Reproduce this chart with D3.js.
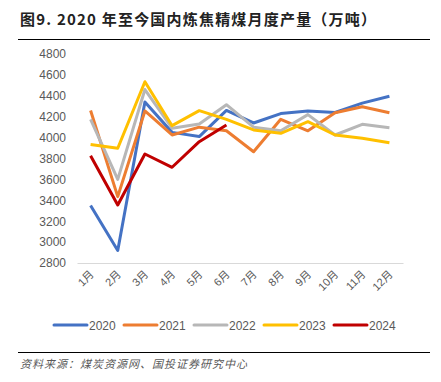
<!DOCTYPE html>
<html><head><meta charset="utf-8">
<script src="https://cdn.jsdelivr.net/npm/d3@7/dist/d3.min.js"></script>
<style>body{margin:0;background:#fff;}svg{display:block;}</style>
</head><body>
<svg id="c" width="441" height="382"></svg>
<script>
const months = ["1月","2月","3月","4月","5月","6月","7月","8月","9月","10月","11月","12月"];
const yTicks = [2800,3000,3200,3400,3600,3800,4000,4200,4400,4600,4800];
const s2020 = [3350,2920,4340,4050,4010,4260,4140,4230,4255,4240,4330,4395];
const s2021 = [4260,3435,4255,4025,4100,4065,3865,4175,4065,4238,4295,4238];
const s2022 = [4175,3600,4460,4090,4130,4315,4100,4065,4220,4025,4127,4095];
const s2023 = [3935,3898,4535,4114,4258,4175,4073,4041,4152,4025,3993,3951];
const s2024 = [3827,3355,3843,3716,3961,4121];
const seriesNames = ["2020","2021","2022","2023","2024"];
const seriesData = [s2020,s2021,s2022,s2023,s2024];
const colors = ["#4472C4","#ED7D31","#B7B7B7","#FFC000","#C00000"];

const svg = d3.select("#c");
const font = "Arial, 'Liberation Sans', 'Noto Sans CJK SC', sans-serif";

// title
svg.append("text").attr("x",20).attr("y",25)
  .attr("font-family","'Noto Sans CJK SC', sans-serif").attr("font-weight","bold")
  .attr("font-size",15).attr("fill","#222").attr("letter-spacing","1.2")
  .text("图9. 2020 年至今国内炼焦精煤月度产量（万吨）");
svg.append("line").attr("x1",18).attr("x2",430).attr("y1",39.5).attr("y2",39.5)
  .attr("stroke","#000").attr("stroke-width",1.2);

const x = d3.scaleBand().domain(months).range([77,403]);
const y = d3.scaleLinear().domain([2800,4800]).range([263,54]);

// y axis labels
const yAxis = d3.axisLeft(y).tickValues(yTicks).tickFormat(d3.format("d")).tickSize(0).tickPadding(0);
const gy = svg.append("g").attr("transform","translate(66,0)").call(yAxis);
gy.select(".domain").remove();
gy.selectAll("text").attr("font-family",font).attr("font-size",12).attr("fill","#595959");

// x axis
const xAxis = d3.axisBottom(x).tickSize(0).tickPadding(0);
const gx = svg.append("g").attr("transform","translate(0,263)").call(xAxis);
gx.select(".domain").attr("stroke","#D9D9D9").attr("stroke-width",1);
gx.selectAll("text").attr("font-family",font).attr("font-size",11).attr("fill","#595959")
  .attr("text-anchor","end").attr("dy","0")
  .attr("transform","translate(4,12) rotate(-45)");

const line = d3.line().x((d,i)=>x(months[i])+x.bandwidth()/2).y(d=>y(d));
seriesData.forEach((s,k)=>{
  svg.append("path").datum(s).attr("d",line).attr("fill","none")
    .attr("stroke",colors[k]).attr("stroke-width",3).attr("stroke-linejoin","round");
});

// legend
seriesNames.forEach((n,k)=>{
  const lx = 54 + k*70;
  svg.append("line").attr("x1",lx).attr("x2",lx+33).attr("y1",325).attr("y2",325)
    .attr("stroke",colors[k]).attr("stroke-width",3).attr("stroke-linecap","round");
  svg.append("text").attr("x",lx+35).attr("y",329.5).attr("font-family",font)
    .attr("font-size",12).attr("fill","#595959").text(n);
});

svg.append("line").attr("x1",18).attr("x2",430).attr("y1",352.5).attr("y2",352.5)
  .attr("stroke","#000").attr("stroke-width",1);
svg.append("text").attr("x",20).attr("y",368).attr("font-family","'Noto Sans CJK SC', sans-serif")
  .attr("font-size",11).attr("font-style","italic").attr("fill","#595959")
  .attr("letter-spacing","1").text("资料来源：煤炭资源网、国投证券研究中心");
</script>
</body></html>
